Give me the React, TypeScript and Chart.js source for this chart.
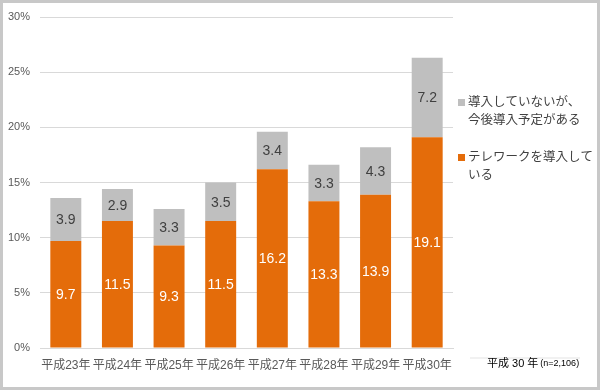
import React, { useEffect, useRef } from "react";
import { Chart, registerables } from "chart.js";

Chart.register(...registerables);

const categories = ["平成23年", "平成24年", "平成25年", "平成26年", "平成27年", "平成28年", "平成29年", "平成30年"];
const introduced = [9.7, 11.5, 9.3, 11.5, 16.2, 13.3, 13.9, 19.1];
const planned = [3.9, 2.9, 3.3, 3.5, 3.4, 3.3, 4.3, 7.2];
const plannedLabel = ["導入していないが、", "今後導入予定がある"];
const introducedLabel = ["テレワークを導入して", "いる"];
const yTicks = [0, 5, 10, 15, 20, 25, 30];
const noteMain = "平成 30 年";
const noteSub = "(n=2,106)";

const ORANGE = "#E46C0A";
const GRAY = "#BFBFBF";
const FONT = '"Liberation Sans", Arial, "Noto Sans CJK JP", sans-serif';

const labelPlugin = {
  id: "valueLabels",
  afterDatasetsDraw(chart: any) {
    const ctx = chart.ctx;
    ctx.save();
    ctx.font = `14px ${FONT}`;
    ctx.textAlign = "center";
    ctx.textBaseline = "middle";
    chart.data.datasets.forEach((ds: any, di: number) => {
      const meta = chart.getDatasetMeta(di);
      meta.data.forEach((el: any, i: number) => {
        const v = ds.data[i];
        const cy = (el.y + el.base) / 2;
        ctx.fillStyle = di === 0 ? "#FFFFFF" : "#404040";
        ctx.fillText(v.toFixed(1), el.x, cy + 1);
      });
    });
    ctx.restore();
  },
};

const legendPlugin = {
  id: "customLegend",
  afterDraw(chart: any) {
    const ctx = chart.ctx;
    ctx.save();
    const items = [
      { color: GRAY, lines: plannedLabel, y: 100 },
      { color: ORANGE, lines: introducedLabel, y: 155 },
    ];
    ctx.font = `12.5px ${FONT}`;
    ctx.textBaseline = "middle";
    ctx.textAlign = "left";
    items.forEach((it) => {
      ctx.fillStyle = it.color;
      ctx.fillRect(455, it.y - 4, 7, 7);
      ctx.fillStyle = "#404040";
      it.lines.forEach((ln, k) => {
        ctx.fillText(ln, 465, it.y + k * 18);
      });
    });
    // note
    ctx.strokeStyle = "#EDEDED";
    ctx.lineWidth = 1.5;
    ctx.beginPath();
    ctx.moveTo(467, 355);
    ctx.lineTo(577, 355);
    ctx.stroke();
    ctx.fillStyle = "#000000";
    ctx.font = `11px ${FONT}`;
    ctx.fillText(noteMain, 484, 361);
    const w = ctx.measureText(noteMain).width;
    ctx.font = `9px ${FONT}`;
    ctx.fillText(noteSub, 484 + w + 2, 361);
    ctx.restore();
  },
};

export default function App() {
  const ref = useRef<HTMLCanvasElement>(null);
  useEffect(() => {
    document.body.style.margin = "0";
    const chart = new Chart(ref.current!, {
      type: "bar",
      data: {
        labels: categories,
        datasets: [
          { label: introducedLabel.join(""), data: introduced, backgroundColor: ORANGE, barPercentage: 0.6, categoryPercentage: 1 },
          { label: plannedLabel.join(""), data: planned, backgroundColor: GRAY, barPercentage: 0.6, categoryPercentage: 1 },
        ],
      },
      options: {
        responsive: false,
        animation: false,
        layout: { padding: { top: 14, right: 144, left: 0, bottom: 0 } },
        plugins: { legend: { display: false }, tooltip: { enabled: false } },
        scales: {
          x: {
            stacked: true,
            grid: { display: false, drawTicks: false },
            border: { color: "#D9D9D9" },
            ticks: { color: "#595959", font: { family: FONT, size: 12 }, padding: 10, maxRotation: 0, autoSkip: false },
            afterFit: (s: any) => { s.height = 39; },
          },
          y: {
            stacked: true,
            min: 0,
            max: 30,
            afterBuildTicks: (s: any) => { s.ticks = yTicks.map((v) => ({ value: v })); },
            grid: { color: "#D9D9D9", drawTicks: true, tickLength: 7, tickColor: "rgba(0,0,0,0)" },
            border: { display: false },
            ticks: { color: "#595959", font: { family: FONT, size: 11 }, padding: 3, callback: (v: any) => v + "%" },
            afterFit: (s: any) => { s.width = 37; },
          },
        },
      },
      plugins: [labelPlugin, legendPlugin],
    });
    return () => chart.destroy();
  }, []);
  return (
    <div style={{ position: "absolute", left: 0, top: 0, width: 600, height: 390, boxSizing: "border-box", border: "3px solid #C8C8C8", background: "#FFFFFF" }}>
      <canvas ref={ref} width={594} height={384} style={{ display: "block" }} />
    </div>
  );
}
